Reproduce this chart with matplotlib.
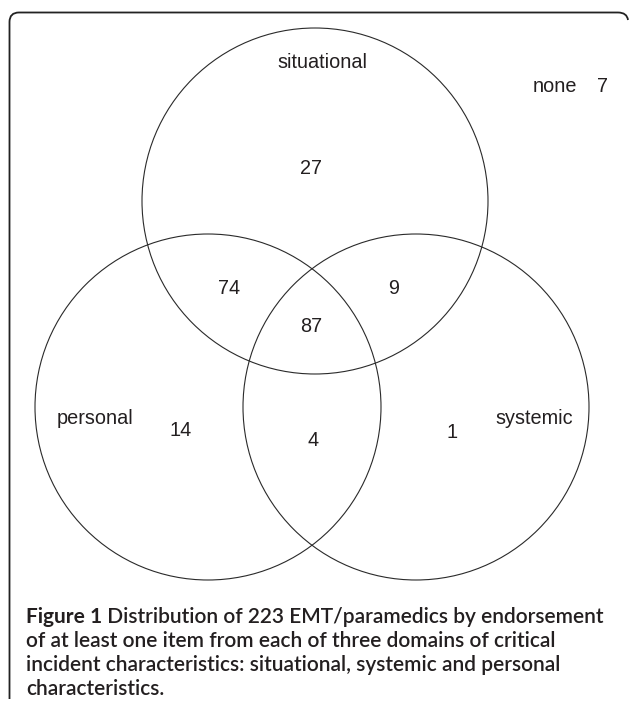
import matplotlib
matplotlib.use("Agg")
import matplotlib.pyplot as plt
from matplotlib.patches import Circle, PathPatch
from matplotlib.path import Path

# --- donnees du diagramme ---
set_names = ['situational', 'personal', 'systemic']
region_labels = ['situational only', 'situational+personal', 'situational+systemic',
                 'all three', 'personal only', 'personal+systemic', 'systemic only']
region_counts = [27, 74, 9, 87, 14, 4, 1]
none_label = 'none'
none_count = 7

caption_bold = "Figure 1"
caption_lines = [
    " Distribution of 223 EMT/paramedics by endorsement",
    "of at least one item from each of three domains of critical",
    "incident characteristics: situational, systemic and personal",
    "characteristics.",
]

# --- mise en page (pixels, origine en haut a gauche) ---
W, H = 629, 703
circle_centers = [(315, 201), (208, 407), (416, 407)]
radius = 173
set_label_pos = [(322, 63), (95, 419), (534, 419)]
region_pos = [(311, 169), (229, 289), (394, 289), (311, 327), (181, 431), (313, 440), (452, 432)]
ink = '#231f20'

fig = plt.figure(figsize=(W / 100, H / 100), dpi=100)
ax = fig.add_axes([0, 0, 1, 1])
ax.set_xlim(0, W)
ax.set_ylim(H, 0)
ax.set_aspect('equal')
ax.axis('off')

# cadre arrondi (bord gauche + haut)
verts = [(9.5, 699), (9.5, 22), (9.5, 12.5), (19, 12.5), (618, 12.5), (627, 12.5), (628, 20)]
codes = [Path.MOVETO, Path.LINETO, Path.CURVE3, Path.CURVE3, Path.LINETO, Path.CURVE3, Path.CURVE3]
ax.add_patch(PathPatch(Path(verts, codes), fill=False, lw=1.3, edgecolor='#222222'))

# cercles
for c in circle_centers:
    ax.add_patch(Circle(c, radius, fill=False, lw=0.8, edgecolor='#2a2a2a'))

font = dict(family='Liberation Sans', fontsize=14.3, color=ink, ha='center', va='center')
for name, (x, y) in zip(set_names, set_label_pos):
    ax.text(x, y, name, **font)
for n, (x, y) in zip(region_counts, region_pos):
    ax.text(x, y, str(n), **font)
ax.text(555, 87, none_label, **font)
ax.text(602, 87, str(none_count), **font)

# legende
cap_font = dict(family='Lato', fontsize=15.0, color=ink)
line_y = [617, 641, 665, 689]
t = ax.text(26, line_y[0], caption_bold, fontweight='bold', va='center', **cap_font)
ax.annotate(caption_lines[0], xy=(1, 0.5), xycoords=t, va='center', fontweight='semibold', **cap_font)
for txt, y in zip(caption_lines[1:], line_y[1:]):
    ax.text(26, y, txt, va='center', fontweight='semibold', **cap_font)

fig.savefig('out.png', dpi=100)
